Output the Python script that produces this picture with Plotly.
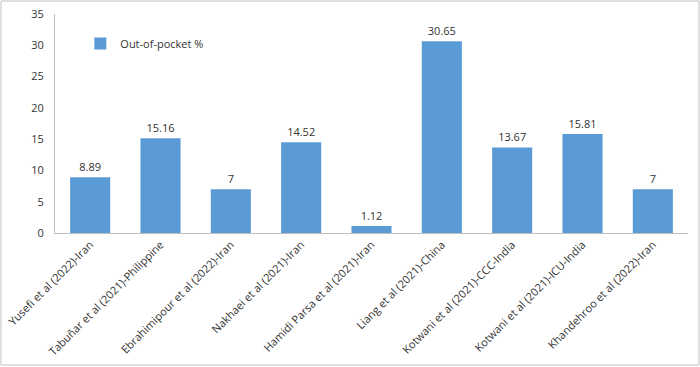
import plotly.graph_objects as go

categories = [
    "Yusefi et al (2022)-Iran",
    "Tabuñar et al (2021)-Philippine",
    "Ebrahimipour et al (2022)-Iran",
    "Nakhaei et al (2021)-Iran",
    "Hamidi Parsa et al (2021)-Iran",
    "Liang et al (2021)-China",
    "Kotwani et al (2021)-CCC-India",
    "Kotwani et al (2021)-ICU-India",
    "Khandehroo et al (2022)-Iran",
]
values = [8.89, 15.16, 7, 14.52, 1.12, 30.65, 13.67, 15.81, 7]
labels = ["8.89", "15.16", "7", "14.52", "1.12", "30.65", "13.67", "15.81", "7"]
y_ticks = [0, 5, 10, 15, 20, 25, 30, 35]

font = dict(family="Open Sans, Liberation Sans, sans-serif", size=11, color="#333333")

fig = go.Figure(go.Bar(
    x=categories, y=values, name="Out-of-pocket %",
    marker=dict(color="#5B9BD5", line=dict(width=0)),
    text=labels, textposition="outside", textfont=dict(size=11, color="#333333"),
    cliponaxis=False,
))
fig.update_layout(
    width=700, height=367,
    margin=dict(l=55, r=12, t=14, b=134),
    paper_bgcolor="white", plot_bgcolor="white",
    font=font,
    bargap=0.43,
    showlegend=True,
    legend=dict(x=0.04, y=0.865, xanchor="left", yanchor="middle",
                bgcolor="rgba(0,0,0,0)", font=dict(size=11),
                itemwidth=30),
    xaxis=dict(tickangle=-45, showline=True, linecolor="#BFBFBF", linewidth=1,
               ticks="", showgrid=False, tickfont=dict(size=11), automargin=False),
    yaxis=dict(range=[0, 35], tickvals=y_ticks, showline=True, linecolor="#BFBFBF",
               linewidth=1, ticks="", showgrid=False, zeroline=False,
               tickfont=dict(size=11), automargin=False, ticklabelstandoff=8),
    shapes=[dict(type="rect", xref="paper", yref="paper",
                 x0=-54/633, x1=1+11/633, y0=-132/219, y1=1+13/219,
                 line=dict(color="#BFBFBF", width=1))],
)
fig.write_html("out.html", config={"displayModeBar": False},
               post_script="document.body.style.margin='0';")
